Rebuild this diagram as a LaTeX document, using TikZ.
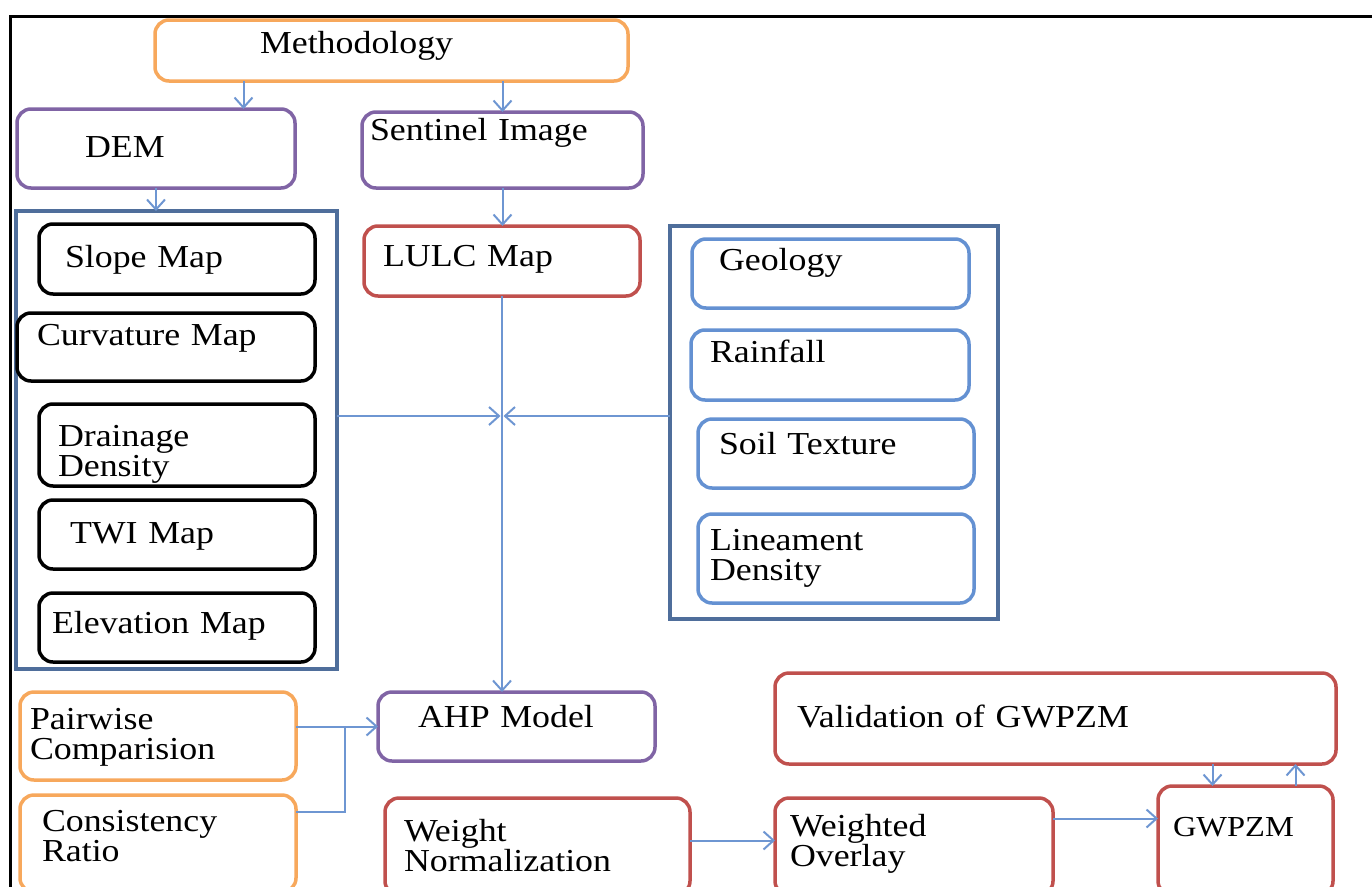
\documentclass[tikz,border=0pt]{standalone}
\usepackage{fontspec}
\setmainfont{Liberation Serif}[FakeStretch=1.12]
\usepackage{tikz}
\usetikzlibrary{arrows.meta}

\definecolor{methorange}{RGB}{247,168,92}
\definecolor{srcpurple}{RGB}{128,100,165}
\definecolor{outred}{RGB}{192,80,77}
\definecolor{layerblue}{RGB}{100,145,210}
\definecolor{groupblue}{RGB}{79,110,155}
\definecolor{arrowblue}{RGB}{110,150,210}

\tikzset{
  box/.style={draw, rounded corners=14pt, line width=3.5pt, anchor=north west,
    align=left, inner ysep=0pt, outer sep=0pt},
  txt/.style n args={4}{inner xsep=#1pt, text width=#2pt, text height=#3pt, text depth=#4pt},
  grp/.style={draw=groupblue, line width=3.5pt, anchor=north west, inner sep=0pt, outer sep=0pt},
  arr/.style={arrowblue, line width=2pt, -{Straight Barb[length=10pt,width=18pt]}},
  link/.style={arrowblue, line width=2pt},
}

\begin{document}
\begin{tikzpicture}[x=1pt, y=-1pt, font=\fontsize{32}{30}\selectfont]
    \useasboundingbox (0,0) rectangle (1372,886);
    \clip (0,0) rectangle (1372,886);
    \draw[line width=3pt] (10,16) rectangle (1390,900);

    %% inputs
    \node[box, draw=methorange, txt={105}{263}{33}{28}] (meth) at (155,20) {Methodology};
    \node[box, draw=srcpurple, txt={68}{142}{48}{31}] (dem) at (17,109) {DEM};
    \node[box, draw=srcpurple, txt={8}{265}{28}{48}] (sent) at (362,112) {Sentinel Image};

    %% layer groups
    \node[grp, minimum width=321pt, minimum height=458pt] (demgrp) at (16,211) {};
    \node[grp, minimum width=328pt, minimum height=393pt] (geogrp) at (670,226) {};

    \node[box, draw=black, txt={26}{224}{43}{27}] (slope) at (39,224) {Slope Map};
    \node[box, draw=black, txt={20}{258}{32}{36}] (curv) at (17,313) {Curvature Map};
    \node[box, draw=black, txt={19}{238}{42}{40}] (drain) at (39,404) {Drainage\\Density};
    \node[box, draw=black, txt={31}{214}{43}{26}] (twi) at (39,500) {TWI Map};
    \node[box, draw=black, txt={13}{250}{40}{29}] (elev) at (39,593) {Elevation Map};

    \node[box, draw=outred, txt={19}{238}{40}{30}] (lulc) at (364,226) {LULC Map};

    \node[box, draw=layerblue, txt={27}{223}{31}{38}] (geol) at (692,239) {Geology};
    \node[box, draw=layerblue, txt={19}{240}{32}{38}] (rain) at (691,330) {Rainfall};
    \node[box, draw=layerblue, txt={21}{234}{35}{34}] (soil) at (698,419) {Soil Texture};
    \node[box, draw=layerblue, txt={12}{252}{36}{53}] (linea) at (698,514) {Lineament\\Density};

    %% AHP and output
    \node[box, draw=srcpurple, txt={40}{197}{35}{34}] (ahp) at (378,692) {AHP Model};
    \node[box, draw=methorange, txt={10}{256}{37}{51}] (pair) at (20,692) {Pairwise\\Comparision};
    \node[box, draw=methorange, txt={22}{232}{36}{61}] (cons) at (20,795) {Consistency\\Ratio};
    \node[box, draw=outred, txt={22}{517}{54}{37}] (valid) at (775,673) {Validation of GWPZM};
    \node[box, draw=outred, txt={19}{267}{43}{54}] (wnorm) at (385,798) {Weight\\Normalization};
    \node[box, draw=outred, txt={15}{248}{38}{59}] (wover) at (775,798) {Weighted\\Overlay};
    \node[box, draw=outred, txt={15}{145}{50}{59}, font=\fontsize{29}{30}\selectfont] (gwpzm) at (1158,786) {GWPZM};

    \coordinate (hub) at (lulc.south |- 0,416);

    \draw[arr] ([xshift=-148pt]meth.south) -- ([xshift=-148pt]meth.south |- dem.north);
    \draw[arr] (meth.south -| sent.north) -- (sent.north);
    \draw[arr] (dem.south) -- (dem.south |- demgrp.north);
    \draw[arr] (sent.south) -- (sent.south |- lulc.north);
    \draw[arr] (lulc.south) -- (lulc.south |- ahp.north);
    \draw[arr, shorten >=1.5pt] (hub -| demgrp.east) -- (hub);
    \draw[arr, shorten >=1.5pt] (hub -| geogrp.west) -- (hub);

    \draw[arr] (ahp.west -| pair.east) -- (ahp.west);
    \draw[link] ([yshift=-17pt]cons.north east) -| ([xshift=-33pt]ahp.west);

    \draw[arr] ([yshift=6pt]wnorm.east) -- ([yshift=6pt]wnorm.east -| wover.west);
    \draw[arr] ([yshift=28pt]wover.east) -- ([yshift=28pt]wover.east -| gwpzm.west);
    \draw[arr] ([xshift=-33pt]gwpzm.north |- valid.south) -- ([xshift=-33pt]gwpzm.north);
    \draw[arr] ([xshift=50pt]gwpzm.north) -- ([xshift=50pt]gwpzm.north |- valid.south);
\end{tikzpicture}
\end{document}
